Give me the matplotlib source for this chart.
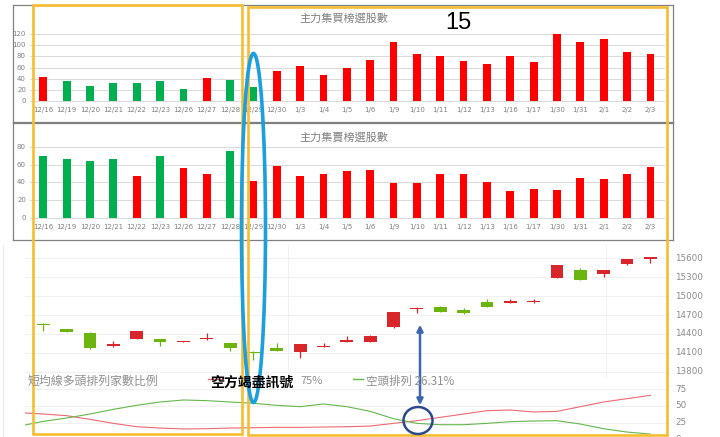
import numpy as np
import matplotlib
matplotlib.use("Agg")
import matplotlib.pyplot as plt
import matplotlib.patches as mpatches
import matplotlib.transforms as mtrans
from matplotlib.lines import Line2D

plt.rcParams['font.family'] = ['Noto Sans CJK TC', 'DejaVu Sans']

# ---- data ----
dates = ["12/16", "12/19", "12/20", "12/21", "12/22", "12/23", "12/26", "12/27", "12/28",
         "12/29", "12/30", "1/3", "1/4", "1/5", "1/6", "1/9", "1/10", "1/11", "1/12",
         "1/13", "1/16", "1/17", "1/30", "1/31", "2/1", "2/2", "2/3"]

buy_counts = [43, 35, 26, 33, 32, 35, 22, 41, 38, 25, 53, 62, 46, 59, 73, 106, 84, 81, 72,
              66, 80, 70, 120, 105, 112, 87, 84]
buy_flags = ["r", "g", "g", "g", "g", "g", "g", "r", "g", "g"] + ["r"] * 17

sell_counts = [70, 66, 64, 66, 47, 70, 56, 49, 75, 42, 58, 47, 50, 53, 54, 39, 39, 49, 50,
               40, 30, 33, 32, 45, 44, 49, 57]
sell_flags = ["g", "g", "g", "g", "r", "g", "r", "r", "g"] + ["r"] * 18

opens = [14560, 14473, 14410, 14203, 14319, 14319, 14270, 14314, 14250, 14110, 14181, 14108,
         14187, 14276, 14276, 14505, 14791, 14822, 14780, 14911, 14891, 14906, 15287, 15414,
         15346, 15505, 15594]
closes = [14535, 14430, 14172, 14235, 14446, 14272, 14288, 14335, 14176, 14095, 14134, 14235,
          14203, 14303, 14372, 14743, 14807, 14748, 14727, 14827, 14927, 14927, 15494, 15260,
          15414, 15589, 15616]
highs = [14580, 14480, 14435, 14288, 14450, 14325, 14295, 14410, 14255, 14134, 14250, 14240,
         14260, 14367, 14378, 14748, 14832, 14843, 14807, 14949, 14955, 14955, 15500, 15441,
         15418, 15595, 15620]
lows = [14450, 14425, 14165, 14200, 14315, 14203, 14265, 14310, 14124, 13986, 14130, 14013,
        14185, 14272, 14272, 14500, 14737, 14745, 14710, 14822, 14887, 14885, 15282, 15255,
        15298, 15500, 15521]

# ratio lines start one session before 12/16
bull_ratio = [40, 38, 35.5, 30, 24, 19, 17, 15.6, 16, 17, 17.5, 18, 18, 18.5, 19, 20, 24, 28,
              33, 38, 43, 44, 41, 42, 49, 56, 61, 66]
bear_ratio = [20, 27, 32, 38, 45, 51, 56, 59, 58, 56, 54, 51, 49, 53, 49, 42, 31, 24, 22, 22,
              24, 26.5, 27.5, 28, 23, 16, 11, 8]

price_ticks = [13800, 14100, 14400, 14700, 15000, 15300, 15600]
ratio_ticks = [0, 25, 50, 75]

RED = "#FF0000"
GREEN = "#00B050"
K_RED = "#D9262B"
K_GREEN = "#6CB40E"
GREY_TXT = "#7f7f7f"

W, H = 720, 437
X0, DX = 43.3, 23.35   # pixel of first category and spacing

fig = plt.figure(figsize=(7.2, 4.37), dpi=100)
fig.patch.set_facecolor("white")


def box(x0, y0, x1, y1):
    return [x0 / W, 1 - y1 / H, (x1 - x0) / W, (y1 - y0) / H]


def fx(x):
    return x / W


def fy(y):
    return 1 - y / H


def bar_panel(rect, zero_px, ppu, values, flags, yticks, title, title_y, label_y):
    x0, y0, x1, y1 = rect
    ax = fig.add_axes(box(*rect))
    ax.set_xlim((x0 - X0) / DX, (x1 - X0) / DX)
    ax.set_ylim(-(y1 - zero_px) / ppu, (zero_px - y0) / ppu)
    x = np.arange(len(values))
    ax.bar(x, values, width=0.33, color=[RED if f == "r" else GREEN for f in flags], zorder=3)
    trans = mtrans.blended_transform_factory(ax.transAxes, ax.transData)
    for v in yticks:
        ax.axhline(v, xmin=(30 - x0) / (x1 - x0), xmax=(664 - x0) / (x1 - x0),
                   color="#d9d9d9", lw=0.7, zorder=1)
        ax.text((26 - x0) / (x1 - x0), v, str(v), transform=trans, ha="right", va="center",
                fontsize=5, color=GREY_TXT, family="DejaVu Sans")
    for i, d in enumerate(dates):
        ax.text(i, -(label_y - zero_px) / ppu, d, ha="center", va="center",
                fontsize=5, color=GREY_TXT, family="DejaVu Sans")
    ax.set_xticks([])
    ax.set_yticks([])
    for s in ax.spines.values():
        s.set_color("#808080")
        s.set_linewidth(0.9)
    fig.text(fx(344), fy(title_y), title, ha="center", va="center", fontsize=8, color="#808080")
    return ax


bar_panel((13, 5, 673, 122), 101, 0.558, buy_counts, buy_flags,
          [0, 20, 40, 60, 80, 100, 120], "主力集買榜選股數", 18, 110)
bar_panel((13, 123, 673, 240), 218, 0.89, sell_counts, sell_flags,
          [0, 20, 40, 60, 80], "主力集賣榜選股數", 137, 227)

fig.text(fx(458), fy(23), "15", ha="center", va="center", fontsize=17,
         family="Liberation Sans", color="black")

# ---- candlestick panel ----
axk = fig.add_axes(box(25, 245, 668, 378))
axk.set_xlim((25 - X0) / DX, (668 - X0) / DX)
axk.set_ylim(15600 - (378 - 258.3) * 15.87, 15600 + (258.3 - 245) * 15.87)
xk = np.arange(len(opens))
o = np.array(opens)
c = np.array(closes)
kcol = [K_RED if cc >= oo else K_GREEN for oo, cc in zip(o, c)]
axk.vlines(xk, lows, highs, colors=kcol, lw=0.9, zorder=3)
body_h = np.maximum(np.abs(c - o), 18)
axk.bar(xk, body_h, bottom=np.minimum(o, c), width=0.55, color=kcol, zorder=4)
for v in price_ticks:
    axk.axhline(v, color="#f0f0f0", lw=0.7, zorder=1)
    fig.text(fx(675), fy(258.3 + (15600 - v) / 15.87), str(v), ha="left", va="center",
             fontsize=6.3, color="#8a8a8a", family="DejaVu Sans")
for xv in [10.5, 24.1]:
    axk.axvline(xv, color="#f0f0f0", lw=0.7, zorder=1)
axk.axis("off")

# ---- ratio panel ----
axr = fig.add_axes(box(25, 380, 668, 437))
axr.set_xlim((25 - X0) / DX, (668 - X0) / DX)
axr.set_ylim((439.4 - 437) / 0.668, (439.4 - 380) / 0.668)
xr = np.arange(-1, len(bull_ratio) - 1)
for v in ratio_ticks:
    axr.axhline(v, color="#f0f0f0", lw=0.7, zorder=1)
    fig.text(fx(675), fy(439.4 - v * 0.668), str(v), ha="left", va="center",
             fontsize=6.3, color="#8a8a8a", family="DejaVu Sans")
axr.plot(xr, bull_ratio, color="#EC6A72", lw=0.8, zorder=3)
axr.plot(xr, bear_ratio, color="#63B84A", lw=0.8, zorder=3)
axr.axis("off")

fig.add_artist(Line2D([fx(3), fx(3)], [fy(245), fy(437)], color="#ececec", lw=0.8))

# legend line of the ratio chart (partly hidden behind the annotation in the original)
fig.text(fx(28), fy(381), "短均線多頭排列家數比例", ha="left", va="center", fontsize=8.6, color="#8f8f8f")
fig.add_artist(Line2D([fx(208), fx(222)], [fy(379), fy(379)], color="#EC6A72", lw=1))
fig.text(fx(300), fy(381), "75%", ha="left", va="center", fontsize=8, color="#8f8f8f")
fig.add_artist(Line2D([fx(353), fx(363)], [fy(379), fy(379)], color="#63B84A", lw=1))
fig.text(fx(366), fy(381), "空頭排列 26.31%", ha="left", va="center", fontsize=8.3, color="#8f8f8f")

# ---- annotations ----
ORANGE = "#F7BD31"
fig.add_artist(mpatches.Rectangle((fx(33), fy(434)), fx(242) - fx(33), fy(5) - fy(434),
                                  transform=fig.transFigure, fill=False, ec=ORANGE, lw=1.9))
fig.add_artist(mpatches.Rectangle((fx(248), fy(435)), fx(667) - fx(248), fy(7) - fy(435),
                                  transform=fig.transFigure, fill=False, ec=ORANGE, lw=1.9))
fig.add_artist(mpatches.Ellipse((fx(253.5), fy(228)), 24 / W, 349 / H,
                                transform=fig.transFigure, fill=False, ec="#1C9FDE", lw=2.6))
fig.add_artist(mpatches.Ellipse((fx(418), fy(420.5)), 29 / W, 27 / H,
                                transform=fig.transFigure, fill=False, ec="#2B4A8C", lw=1.8))
fig.add_artist(mpatches.FancyArrowPatch((fx(420), fy(408)), (fx(420), fy(322)),
                                        transform=fig.transFigure, arrowstyle="<|-|>",
                                        mutation_scale=9, color="#3D66B0", lw=1.8))

fig.text(fx(252), fy(383), "空方竭盡訊號", ha="center", va="center", fontsize=10,
         fontweight="bold", color="black")

fig.savefig("out.png", dpi=100, facecolor="white")
